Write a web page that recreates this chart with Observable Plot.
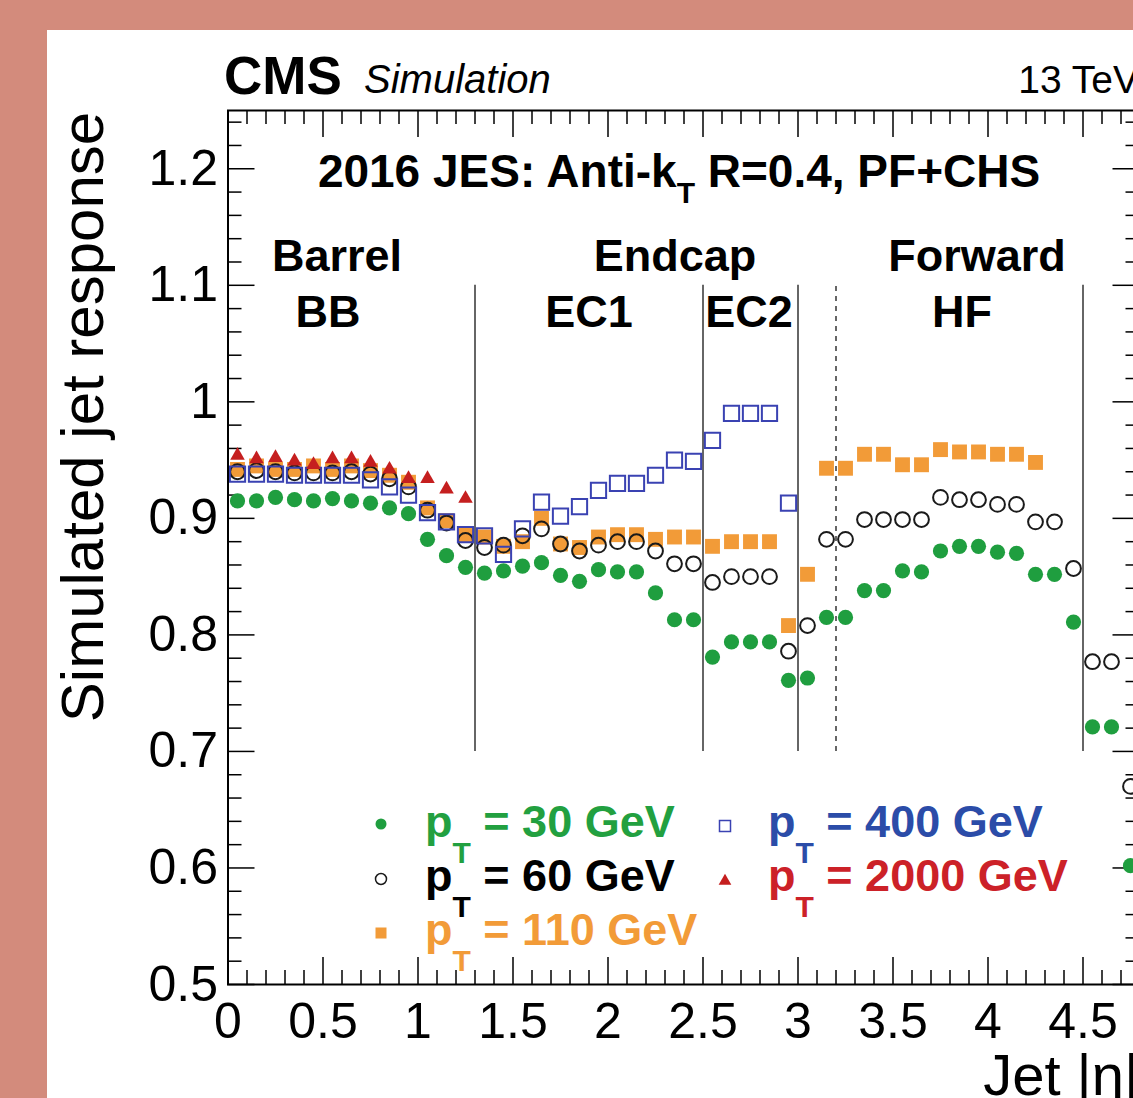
<!DOCTYPE html>
<html><head><meta charset="utf-8">
<script src="https://cdn.jsdelivr.net/npm/d3@7"></script>
<script src="https://cdn.jsdelivr.net/npm/@observablehq/plot@0.6"></script>
<style>
html,body{margin:0;padding:0;}
body{width:1133px;height:1098px;overflow:hidden;position:relative;background:#d38b7c;font-family:"Liberation Sans",Arial,sans-serif;}
#panel{position:absolute;left:47px;top:30px;width:1200px;height:1200px;background:#fff;}
#chart{position:absolute;left:0;top:0;}
svg text{white-space:pre;}
</style></head><body>
<div id="panel"></div>
<div id="chart"></div>
<script>
// |eta| bin centres
const eta = [0.05,0.15,0.25,0.35,0.45,0.55,0.65,0.75,0.85,0.95,
             1.05,1.15,1.25,1.35,1.45,1.55,1.65,1.75,1.85,1.95,
             2.05,2.15,2.25,2.35,2.45,2.55,2.65,2.75,2.85,2.95,
             3.05,3.15,3.25,3.35,3.45,3.55,3.65,3.75,3.85,3.95,
             4.05,4.15,4.25,4.35,4.45,4.55,4.65,4.75];
// simulated jet response per pT
const resp30 = [0.915,0.915,0.918,0.916,0.915,0.917,0.915,0.913,0.909,0.904,
                0.882,0.868,0.858,0.853,0.855,0.859,0.862,0.851,0.846,0.856,
                0.854,0.854,0.836,0.813,0.813,0.781,0.794,0.794,0.794,0.761,
                0.763,0.815,0.815,0.838,0.838,0.855,0.854,0.872,0.876,0.876,
                0.871,0.870,0.852,0.852,0.811,0.721,0.721,0.602];
const resp60 = [0.940,0.941,0.940,0.939,0.939,0.939,0.940,0.938,0.934,0.927,
                0.907,0.896,0.881,0.875,0.877,0.885,0.891,0.878,0.872,0.877,
                0.880,0.880,0.872,0.861,0.861,0.845,0.850,0.850,0.850,0.786,
                0.808,0.882,0.882,0.899,0.899,0.899,0.899,0.918,0.916,0.916,
                0.912,0.912,0.897,0.897,0.857,0.777,0.777,0.670];
const resp110 = [0.942,0.945,0.942,0.942,0.945,0.942,0.945,0.941,0.937,0.931,
                 0.909,0.898,0.886,0.884,0.876,0.880,0.900,0.878,0.875,0.884,
                 0.886,0.886,0.882,0.884,0.884,0.876,0.880,0.880,0.880,0.808,
                 0.852,0.943,0.943,0.955,0.955,0.946,0.946,0.959,0.957,0.957,
                 0.955,0.955,0.948];
const resp400 = [0.938,0.938,0.938,0.937,0.937,0.937,0.937,0.933,0.927,0.920,
                 0.905,0.897,0.886,0.885,0.869,0.891,0.914,0.902,0.910,0.924,
                 0.930,0.930,0.937,0.950,0.949,0.967,0.990,0.990,0.990,0.913];
const resp2000 = [0.954,0.951,0.952,0.949,0.946,0.951,0.951,0.948,0.942,0.934,
                  0.934,0.925,0.917];
// detector region boundaries
const solidBounds = [1.3, 2.5, 3.0, 4.5];
const dashedBounds = [3.2];
// tick values and labels
const xTicks = [0,0.5,1,1.5,2,2.5,3,3.5,4,4.5];
const xTickLabels = ["0","0.5","1","1.5","2","2.5","3","3.5","4","4.5"];
const yTicks = [0.5,0.6,0.7,0.8,0.9,1.0,1.1,1.2];
const yTickLabels = ["0.5","0.6","0.7","0.8","0.9","1","1.1","1.2"];

const C = {green:"#1f9e3f", black:"#1a1a1a", orange:"#f29b38", blue:"#3a42b2", red:"#c51f1f",
           blueText:"#2b4ca8", redText:"#cc2128", greenText:"#22a040", orangeText:"#f29b38"};

const rows = vals => vals.map((v,i) => ({eta: eta[i], resp: v}));

const W = 1200, H = 1098, mT = 110, mL = 227.5, mR = 60.5, mB = 114;
const fw = W - mL - mR, fh = H - mT - mB;
const xMinor = d3.range(0, 4.81, 0.1).map(v => +v.toFixed(2)).filter(v => Math.abs(v*2 - Math.round(v*2)) > 1e-6);
const yMinor = d3.range(0.5, 1.251, 0.02).map(v => +v.toFixed(2)).filter(v => Math.abs(v*10 - Math.round(v*10)) > 1e-6);
const yAllMajor = [0.5,0.6,0.7,0.8,0.9,1.0,1.1,1.2];
const xLab = new Map(xTicks.map((t,i)=>[t, xTickLabels[i]]));
const yLab = new Map(yTicks.map((t,i)=>[t, yTickLabels[i]]));

const chart = Plot.plot({
  width: W, height: H,
  marginTop: mT, marginLeft: mL, marginRight: mR, marginBottom: mB,
  style: "background:transparent;max-width:none;overflow:visible;font-family:'Liberation Sans',Arial,sans-serif;",
  x: {domain: [0, 4.8]},
  y: {domain: [0.5, 1.25]},
  marks: [
    // ticks (ROOT style, inward)
    Plot.ruleX(xTicks, {x: d=>d, insetTop: fh-27, stroke:"#000", strokeWidth:1.5}),
    Plot.ruleX(xMinor, {x: d=>d, insetTop: fh-14, stroke:"#000", strokeWidth:1.5}),
    Plot.ruleX(xTicks, {x: d=>d, insetBottom: fh-27, stroke:"#000", strokeWidth:1.5}),
    Plot.ruleX(xMinor, {x: d=>d, insetBottom: fh-14, stroke:"#000", strokeWidth:1.5}),
    Plot.ruleY(yAllMajor, {y: d=>d, insetRight: fw-27, stroke:"#000", strokeWidth:1.5}),
    Plot.ruleY(yMinor, {y: d=>d, insetRight: fw-14, stroke:"#000", strokeWidth:1.5}),
    Plot.ruleY(yAllMajor, {y: d=>d, insetLeft: fw-27, stroke:"#000", strokeWidth:1.5}),
    Plot.ruleY(yMinor, {y: d=>d, insetLeft: fw-14, stroke:"#000", strokeWidth:1.5}),
    Plot.axisX(xTicks, {anchor:"bottom", tickSize:0, tickPadding:18, tickFormat: d=>xLab.get(d), fontSize:50, label:null, fill:"#000"}),
    Plot.axisY(yTicks, {anchor:"left", tickSize:0, tickPadding:10, tickFormat: d=>yLab.get(d), fontSize:50, label:null, fill:"#000"}),
    // region boundaries
    Plot.ruleX(solidBounds, {x: d=>d, y1: 0.7, y2: 1.1, stroke:"#333", strokeWidth:1.5}),
    Plot.ruleX(dashedBounds, {x: d=>d, y1: 0.7, y2: 1.1, stroke:"#666", strokeWidth:2, strokeDasharray:"5,5"}),
    // data
    Plot.dot(rows(resp110), {x:"eta", y:"resp", symbol:"square", r:8.4, fill:C.orange, stroke:"none"}),
    Plot.dot(rows(resp30), {x:"eta", y:"resp", symbol:"circle", r:7.6, fill:C.green, stroke:"none"}),
    Plot.dot(rows(resp60), {x:"eta", y:"resp", symbol:"circle", r:7.4, fill:"none", stroke:C.black, strokeWidth:2}),
    Plot.dot(rows(resp400), {x:"eta", y:"resp", symbol:"square", r:8.6, fill:"none", stroke:C.blue, strokeWidth:2}),
    Plot.dot(rows(resp2000), {x:"eta", y:"resp", symbol:"triangle", r:5.4, fill:C.red, stroke:"none"}),
    Plot.frame({stroke:"#000", strokeWidth:2})
  ]
});
document.getElementById("chart").appendChild(chart);

// annotations
const svg = d3.select(chart);
const g = svg.append("g").attr("font-family","'Liberation Sans',Arial,sans-serif");
function txt(x, y, s, size, opts={}) {
  const t = g.append("text").attr("x", x).attr("y", y).attr("font-size", size)
    .attr("fill", opts.fill || "#000").attr("text-anchor", opts.anchor || "start")
    .attr("font-weight", opts.bold ? "bold" : "normal")
    .attr("font-style", opts.italic ? "italic" : "normal");
  if (opts.transform) t.attr("transform", opts.transform);
  if (Array.isArray(s)) {
    s.forEach(p => {
      const ts = t.append("tspan").text(p.t);
      if (p.size) ts.attr("font-size", p.size);
      if (p.dy) ts.attr("dy", p.dy);
    });
  } else t.text(s);
  return t;
}
txt(224, 94, "CMS", 53, {bold:true});
txt(364, 93, "Simulation", 40, {italic:true});
txt(1139, 93, "13 TeV", 39, {anchor:"end"});
txt(679, 187, [{t:"2016 JES: Anti-k"},{t:"T", size:30, dy:16},{t:" R=0.4, PF+CHS", dy:-16}], 46, {bold:true, anchor:"middle"});
txt(337, 271, "Barrel", 45, {bold:true, anchor:"middle"});
txt(675, 271, "Endcap", 45, {bold:true, anchor:"middle"});
txt(977, 271, "Forward", 45, {bold:true, anchor:"middle"});
txt(328, 327, "BB", 45, {bold:true, anchor:"middle"});
txt(589, 327, "EC1", 45, {bold:true, anchor:"middle"});
txt(749, 327, "EC2", 45, {bold:true, anchor:"middle"});
txt(962, 327, "HF", 45, {bold:true, anchor:"middle"});
txt(0, 0, "Simulated jet response", 60, {anchor:"middle", transform:"translate(103,417) rotate(-90)"});
txt(1139, 1095, "Jet |η|", 58, {anchor:"end"});

// legend
const legend = [
  {x:381, y:824, tx:425, ty:837, lab:" = 30 GeV", col:C.greenText, sym:"dot"},
  {x:381, y:879, tx:425, ty:891, lab:" = 60 GeV", col:"#000", sym:"ring"},
  {x:381, y:933, tx:425, ty:945, lab:" = 110 GeV", col:C.orangeText, sym:"sq"},
  {x:725, y:826, tx:768, ty:837, lab:" = 400 GeV", col:C.blueText, sym:"osq"},
  {x:725, y:881, tx:768, ty:891, lab:" = 2000 GeV", col:C.redText, sym:"tri"}
];
legend.forEach(e => {
  if (e.sym==="dot") g.append("circle").attr("cx",e.x).attr("cy",e.y).attr("r",5.5).attr("fill",C.green);
  if (e.sym==="ring") g.append("circle").attr("cx",e.x).attr("cy",e.y).attr("r",5.5).attr("fill","none").attr("stroke",C.black).attr("stroke-width",1.5);
  if (e.sym==="sq") g.append("rect").attr("x",e.x-5.5).attr("y",e.y-5.5).attr("width",11).attr("height",11).attr("fill",C.orange);
  if (e.sym==="osq") g.append("rect").attr("x",e.x-5.5).attr("y",e.y-5.5).attr("width",11).attr("height",11).attr("fill","none").attr("stroke",C.blue).attr("stroke-width",1.5);
  if (e.sym==="tri") g.append("path").attr("d", d3.symbol(d3.symbolTriangle, 70)()).attr("transform",`translate(${e.x},${e.y})`).attr("fill",C.red);
  txt(e.tx, e.ty, [{t:"p"},{t:"T", size:30, dy:26},{t:e.lab, dy:-26}], 45, {bold:true, fill:e.col});
});
</script>
</body></html>
